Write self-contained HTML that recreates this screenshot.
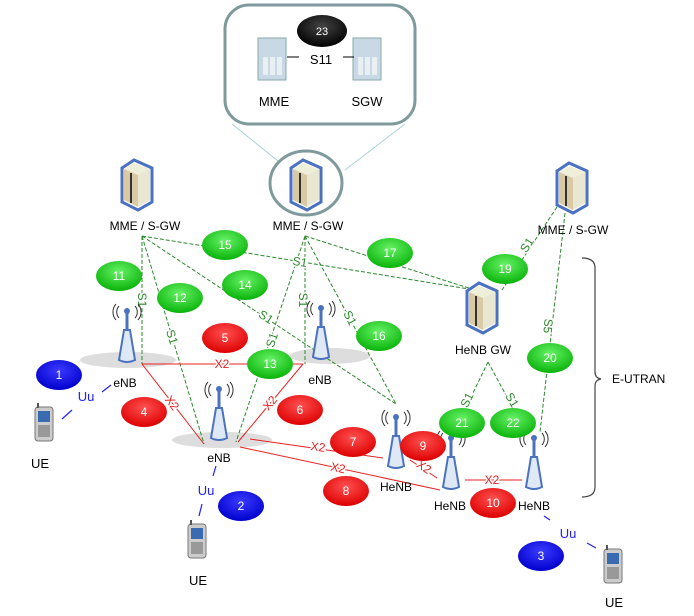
<!DOCTYPE html>
<html><head><meta charset="utf-8"><style>
html,body{margin:0;padding:0;background:#fff;}
svg{display:block;font-family:"Liberation Sans",sans-serif;}
</style></head><body>
<svg width="694" height="616" viewBox="0 0 694 616" xmlns="http://www.w3.org/2000/svg">
<defs>
<radialGradient id="gG" cx="50%" cy="35%" r="65%"><stop offset="0" stop-color="#66f266"/><stop offset="1" stop-color="#09b309"/></radialGradient>
<radialGradient id="gR" cx="50%" cy="35%" r="65%"><stop offset="0" stop-color="#ff5050"/><stop offset="1" stop-color="#dd0000"/></radialGradient>
<radialGradient id="gB" cx="50%" cy="35%" r="65%"><stop offset="0" stop-color="#3a3aff"/><stop offset="1" stop-color="#0000cc"/></radialGradient>
<radialGradient id="gK" cx="50%" cy="35%" r="65%"><stop offset="0" stop-color="#444"/><stop offset="1" stop-color="#000"/></radialGradient>
<g id="srv">
<polygon points="0,8 12,0 30,8 30,42 16,50 0,42" fill="#fff" stroke="#4a72c0" stroke-width="3"/>
<polygon points="2,9 12,3 28,9 16,15" fill="#efeed9"/>
<polygon points="2,9 16,15 16,47 2,40" fill="#d9c9a5"/>
<polygon points="16,15 28,9 28,40 16,47" fill="#e9e7d2"/>
<rect x="8" y="13" width="2" height="30" fill="#333"/>
</g>
<g id="tow">
<path d="M0,-28 a9,9 0 0 1 0,12 M16,-28 a9,9 0 0 0 0,12" fill="none"/>
<line x1="8" y1="-22" x2="8" y2="-4" stroke="#4a72c0" stroke-width="3"/>
<circle cx="8" cy="-23" r="3" fill="#4a72c0"/>
<path d="M5,-4 L11,-4 L16,26 Q8,30 0,26 Z" fill="#dfe8f5" stroke="#4a72c0" stroke-width="2"/>
<path d="M-3,-30 a12,12 0 0 0 0,16 M19,-30 a12,12 0 0 1 0,16 M0,-28 a9,9 0 0 0 0,12 M16,-28 a9,9 0 0 1 0,12" fill="none" stroke="#333" stroke-width="1"/>
</g>
<g id="ph">
<rect x="0" y="4" width="18" height="34" rx="3" fill="#ccc" stroke="#777"/>
<rect x="3" y="8" width="12" height="11" fill="#3a6ab0"/>
<rect x="3" y="22" width="12" height="12" fill="#999"/>
<rect x="2" y="0" width="2" height="5" fill="#555"/>
</g>
</defs>

<!-- callout -->
<line x1="232" y1="124" x2="283" y2="165" stroke="#a8d4dc" stroke-width="1"/>
<line x1="405" y1="124" x2="345" y2="170" stroke="#a8d4dc" stroke-width="1"/>
<rect x="225" y="5" width="190" height="119" rx="24" fill="#fff" stroke="#7f9a9d" stroke-width="3"/>
<g fill="#c8d8e4" stroke="#8aa"><rect x="258" y="38" width="28" height="42"/><rect x="353" y="38" width="28" height="42"/></g>
<g fill="#e8f0f4"><rect x="263" y="57" width="5" height="18"/><rect x="270" y="57" width="5" height="18"/><rect x="277" y="57" width="5" height="18"/><rect x="358" y="57" width="5" height="18"/><rect x="365" y="57" width="5" height="18"/><rect x="372" y="57" width="5" height="18"/></g>
<line x1="287" y1="57" x2="299" y2="57" stroke="#000"/><line x1="343" y1="57" x2="354" y2="57" stroke="#000"/>
<text x="321" y="64" font-size="13" text-anchor="middle">S11</text>
<text x="274" y="106" font-size="13" text-anchor="middle">MME</text>
<text x="367" y="106" font-size="13" text-anchor="middle">SGW</text>

<!-- ground ellipses -->
<g fill="#ddd"><ellipse cx="128" cy="360" rx="48" ry="8"/><ellipse cx="330" cy="356" rx="40" ry="8"/><ellipse cx="222" cy="440" rx="50" ry="8"/></g>

<!-- green dashed S1 -->
<g stroke="#2a8a2a" stroke-width="1" stroke-dasharray="4,2" fill="none">
<line x1="142" y1="236" x2="142" y2="364"/>
<line x1="142" y1="236" x2="204" y2="444"/>
<line x1="142" y1="236" x2="396" y2="404"/>
<line x1="142" y1="236" x2="475" y2="290"/>
<line x1="305" y1="236" x2="236" y2="442"/>
<line x1="305" y1="236" x2="305" y2="364"/>
<line x1="305" y1="236" x2="396" y2="404"/>
<line x1="305" y1="236" x2="475" y2="290"/>
<line x1="557" y1="207" x2="502" y2="290"/>
<line x1="565" y1="213" x2="540" y2="432"/>
<line x1="488" y1="362" x2="455" y2="430"/>
<line x1="488" y1="362" x2="525" y2="430"/>
</g>
<!-- red X2 -->
<g stroke="#e82020" stroke-width="1" fill="none">
<line x1="142" y1="364" x2="303" y2="364"/>
<line x1="142" y1="364" x2="204" y2="444"/>
<line x1="303" y1="364" x2="238" y2="442"/>
<line x1="250" y1="439" x2="383" y2="458"/>
<line x1="240" y1="447" x2="440" y2="490"/>
<line x1="410" y1="460" x2="437" y2="478"/>
<line x1="465" y1="480" x2="522" y2="480"/>
</g>
<g font-size="12" fill="#2a8a2a" text-anchor="middle" stroke="#fff" stroke-width="3" paint-order="stroke">
<text x="142" y="304" transform="rotate(90 142 300)">S1</text>
<text x="172" y="341" transform="rotate(73 172 337)">S1</text>
<text x="266" y="321" transform="rotate(33 266 317)">S1</text>
<text x="300" y="266" transform="rotate(9 300 262)">S1</text>
<text x="272" y="344" transform="rotate(-72 272 340)">S1</text>
<text x="303" y="304" transform="rotate(90 303 300)">S1</text>
<text x="350" y="322" transform="rotate(62 350 318)">S1</text>
<text x="527" y="249" transform="rotate(-57 527 245)">S1</text>
<text x="548" y="330" transform="rotate(95 548 326)">S5</text>
<text x="467" y="404" transform="rotate(-64 467 400)">S1</text>
<text x="512" y="404" transform="rotate(60 512 400)">S1</text>
</g>
<g font-size="12" fill="#e82020" text-anchor="middle" stroke="#fff" stroke-width="3" paint-order="stroke">
<text x="222" y="368">X2</text>
<text x="172" y="407" transform="rotate(52 172 403)">X2</text>
<text x="270" y="407" transform="rotate(-50 270 403)">X2</text>
<text x="318" y="451" transform="rotate(8 318 447)">X2</text>
<text x="338" y="472" transform="rotate(12 338 468)">X2</text>
<text x="424" y="471" transform="rotate(34 424 467)">X2</text>
<text x="492" y="484">X2</text>
</g>

<!-- Uu -->
<g stroke="#2020ff" stroke-width="1.2">
<line x1="102" y1="392" x2="111" y2="385"/><line x1="62" y1="419" x2="72" y2="410"/>
<line x1="216" y1="466" x2="213" y2="476"/><line x1="202" y1="504" x2="199" y2="516"/>
<line x1="544" y1="516" x2="550" y2="520"/><line x1="587" y1="543" x2="596" y2="548"/>
</g>
<g font-size="13" fill="#2020ff" text-anchor="middle">
<text x="86" y="401">Uu</text><text x="206" y="495">Uu</text><text x="568" y="538">Uu</text>
</g>

<!-- servers -->
<use href="#srv" x="122" y="160"/>
<ellipse cx="306" cy="183" rx="36" ry="32" fill="#fff" stroke="#7f9a9d" stroke-width="3"/>
<use href="#srv" x="291" y="160"/>
<use href="#srv" x="557" y="163"/>
<use href="#srv" x="467" y="283"/>
<g font-size="12" text-anchor="middle">
<text x="145" y="230">MME / S-GW</text>
<text x="308" y="230">MME / S-GW</text>
<text x="573" y="234">MME / S-GW</text>
<text x="483" y="354">HeNB GW</text>
</g>

<!-- towers -->
<use href="#tow" x="119" y="334"/>
<use href="#tow" x="313" y="331"/>
<use href="#tow" x="211" y="412"/>
<use href="#tow" x="388" y="440"/>
<use href="#tow" x="443" y="461"/>
<use href="#tow" x="526" y="461"/>
<g font-size="12" text-anchor="middle">
<text x="125" y="387">eNB</text><text x="320" y="384">eNB</text><text x="219" y="462">eNB</text>
<text x="396" y="491">HeNB</text><text x="450" y="510">HeNB</text><text x="534" y="510">HeNB</text>
</g>

<!-- phones -->
<use href="#ph" x="35" y="403"/><use href="#ph" x="188" y="520"/><use href="#ph" x="604" y="545"/>
<g font-size="13" text-anchor="middle"><text x="40" y="468">UE</text><text x="198" y="585">UE</text><text x="614" y="607">UE</text></g>

<!-- brace -->
<path d="M582,258 Q595,258 595,268 L595,372 Q595,378 601,379 Q595,380 595,386 L595,487 Q595,497 582,497" fill="none" stroke="#444" stroke-width="1.2"/>
<text x="612" y="383" font-size="12">E-UTRAN</text>

<!-- badges -->
<g font-size="12" fill="#fff" text-anchor="middle">
<g fill="url(#gB)"><ellipse cx="59" cy="375" rx="23" ry="15"/><ellipse cx="241" cy="506" rx="23" ry="15"/><ellipse cx="541" cy="556" rx="23" ry="15"/></g>
<g fill="url(#gR)"><ellipse cx="225" cy="338" rx="23" ry="15"/><ellipse cx="144" cy="412" rx="23" ry="15"/><ellipse cx="300" cy="410" rx="23" ry="15"/><ellipse cx="353" cy="442" rx="23" ry="15"/><ellipse cx="346" cy="491" rx="23" ry="15"/><ellipse cx="423" cy="446" rx="23" ry="15"/><ellipse cx="493" cy="503" rx="23" ry="15"/></g>
<g fill="url(#gG)"><ellipse cx="119" cy="276" rx="23" ry="15"/><ellipse cx="180" cy="298" rx="23" ry="15"/><ellipse cx="270" cy="364" rx="23" ry="15"/><ellipse cx="245" cy="285" rx="23" ry="15"/><ellipse cx="225" cy="245" rx="23" ry="15"/><ellipse cx="379" cy="336" rx="23" ry="15"/><ellipse cx="390" cy="253" rx="23" ry="15"/><ellipse cx="505" cy="269" rx="23" ry="15"/><ellipse cx="550" cy="358" rx="23" ry="15"/><ellipse cx="462" cy="423" rx="23" ry="15"/><ellipse cx="513" cy="423" rx="23" ry="15"/></g>
<ellipse cx="322" cy="31" rx="25" ry="16" fill="url(#gK)"/>
<text x="59" y="379">1</text><text x="241" y="510">2</text><text x="541" y="560">3</text>
<text x="144" y="416">4</text><text x="225" y="342">5</text><text x="300" y="414">6</text><text x="353" y="446">7</text><text x="346" y="495">8</text><text x="423" y="450">9</text><text x="493" y="507">10</text>
<text x="119" y="280">11</text><text x="180" y="302">12</text><text x="270" y="368">13</text><text x="245" y="289">14</text><text x="225" y="249">15</text><text x="379" y="340">16</text><text x="390" y="257">17</text><text x="505" y="273">19</text><text x="550" y="362">20</text><text x="462" y="427">21</text><text x="513" y="427">22</text>
<text x="322" y="35" font-size="11">23</text>
</g>
</svg>
</body></html>
